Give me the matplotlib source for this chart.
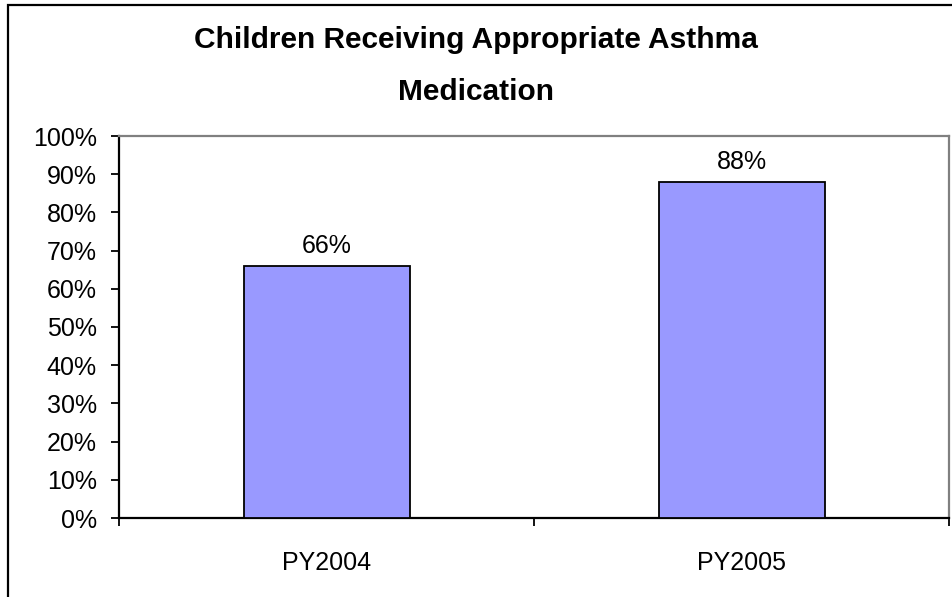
import matplotlib
matplotlib.use("Agg")
import matplotlib.pyplot as plt
from matplotlib.patches import Rectangle
import numpy as np

# Data
years = ["PY2004", "PY2005"]
rates = [66, 88]
y_ticks = list(range(0, 101, 10))

plt.rcParams['font.family'] = ['Liberation Sans', 'DejaVu Sans']

W, H = 952, 597
fig = plt.figure(figsize=(W / 100, H / 100), dpi=100)

# outer chart frame (only top/left edges fall inside the image)
fig.patches.append(Rectangle((8 / W, -0.1), 1.2, (H - 5) / H + 0.1,
                             transform=fig.transFigure, fill=False,
                             edgecolor='black', linewidth=1.6))

ax = fig.add_axes([119 / W, (H - 518) / H, (949 - 119) / W, (518 - 136) / H])

x = np.arange(len(years))
bars = ax.bar(x, rates, width=0.4, color='#9999FF', edgecolor='black',
              linewidth=1.3, zorder=3)

for b, v in zip(bars, rates):
    ax.annotate(f"{v}%", (b.get_x() + b.get_width() / 2, v),
                xytext=(0, 6), textcoords='offset points',
                ha='center', va='bottom', fontsize=18)

ax.set_xlim(-0.5, len(years) - 0.5)
ax.set_ylim(0, 100)

ax.set_yticks(y_ticks)
ax.set_yticklabels([f"{t}%" for t in y_ticks], fontsize=18)
ax.tick_params(axis='y', direction='out', length=6, width=1.3, pad=10)

# category labels at centers, tick marks at category boundaries
ax.set_xticks(x)
ax.set_xticklabels(years, fontsize=18)
ax.set_xticks(np.arange(-0.5, len(years)), minor=True)
ax.tick_params(axis='x', which='major', length=0, pad=24)
ax.tick_params(axis='x', which='minor', direction='out', length=6, width=1.3)

for side in ('left', 'bottom'):
    ax.spines[side].set_color('black')
    ax.spines[side].set_linewidth(1.6)
for side in ('top', 'right'):
    ax.spines[side].set_color('#808080')
    ax.spines[side].set_linewidth(1.6)

fig.text(0.5, 1 - 40 / H, "Children Receiving Appropriate Asthma",
         ha='center', va='center', fontsize=21.5, fontweight='bold')
fig.text(0.5, 1 - 92 / H, "Medication",
         ha='center', va='center', fontsize=21.5, fontweight='bold')

fig.savefig("out.png", dpi=100)
